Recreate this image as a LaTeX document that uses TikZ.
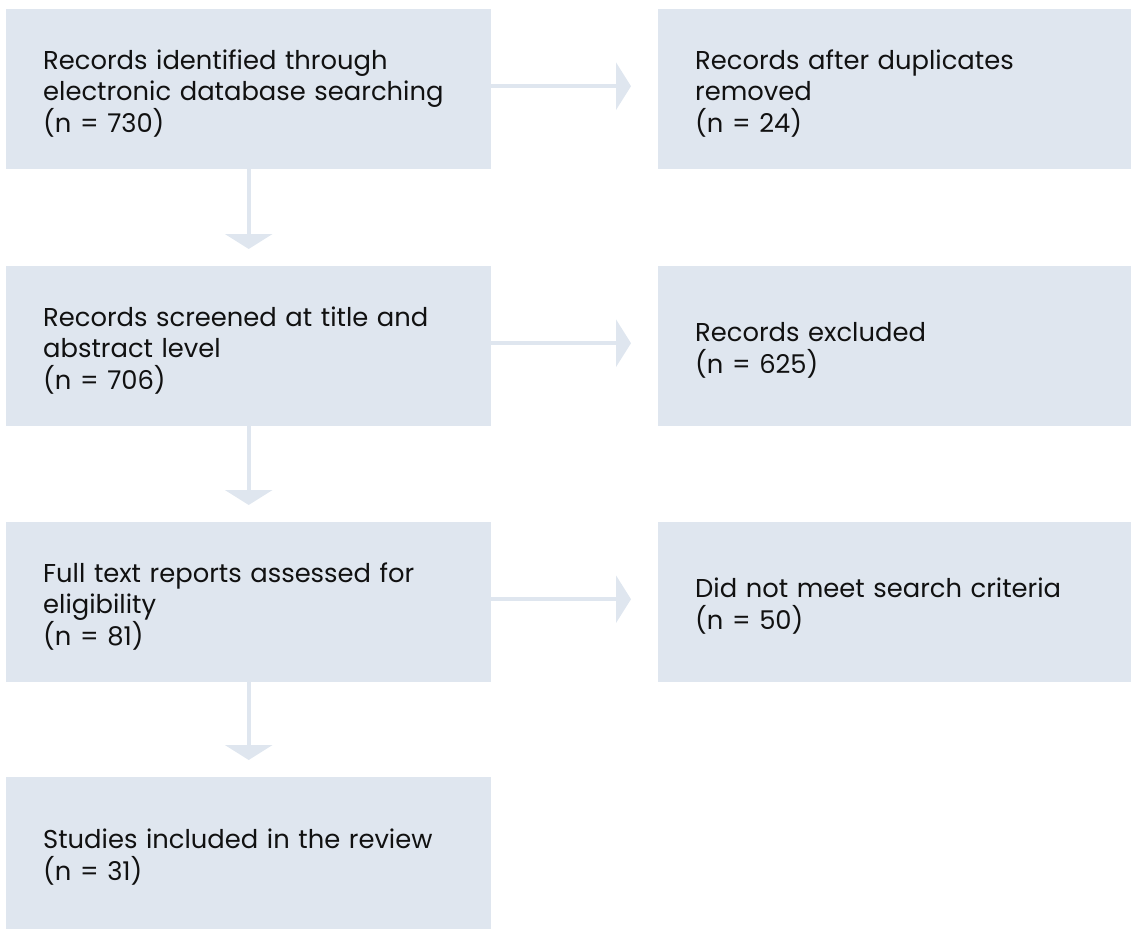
\documentclass[tikz,border=0pt]{standalone}
\usepackage{fontspec}
\setmainfont{Poppins}
\usetikzlibrary{arrows.meta, positioning}
\definecolor{boxblue}{HTML}{DFE6EF}
\definecolor{inkblack}{HTML}{111111}

\begin{document}
\begin{tikzpicture}[
    x=1pt, y=-1pt,
    >={Triangle[length=15pt, width=47pt]},
    every node/.style={text=inkblack},
    stage/.style={fill=boxblue, anchor=north west, align=left,
      font=\fontsize{25.8}{31.8}\selectfont, inner xsep=37pt, inner ysep=0pt,
      minimum height=160pt, text width=411pt,
      execute at begin node={\rule{0pt}{28pt}}},
    side/.style={stage, text width=399pt},
    flow/.style={->, boxblue, line width=4pt},
  ]

  % Page
  \useasboundingbox (0,0) rectangle (1131,929);

  % === Left column ===
  \node[stage] (ident) at (6,9)
    {Records identified through\\electronic database searching\\(n = 730)};
  \node[stage] (screen) at (6,266)
    {Records screened at title and\\abstract level\\(n = 706)};
  \node[stage] (full) at (6,522)
    {Full text reports assessed for\\eligibility\\(n = 81)};
  \node[stage, minimum height=152pt] (incl) at (6,777)
    {Studies included in the review\\(n = 31)};

  % === Right column ===
  \node[side] (dupl) at (658,9)
    {Records after duplicates\\removed\\(n = 24)};
  \node[side] (excl) at (658,266)
    {Records excluded\\(n = 625)};
  \node[side] (crit) at (658,522)
    {Did not meet search criteria\\(n = 50)};

  % Arrows down
  \draw[flow, shorten >=17pt] (ident) -- (screen);
  \draw[flow, shorten >=17pt] (screen) -- (full);
  \draw[flow, shorten >=17pt] (full) -- (incl);

  % Arrows across
  \draw[flow, shorten >=27pt] ([yshift=3pt]ident.east) -- ([yshift=3pt]dupl.west);
  \draw[flow, shorten >=27pt] ([yshift=3pt]screen.east) -- ([yshift=3pt]excl.west);
  \draw[flow, shorten >=27pt] ([yshift=3pt]full.east) -- ([yshift=3pt]crit.west);

\end{tikzpicture}
\end{document}
